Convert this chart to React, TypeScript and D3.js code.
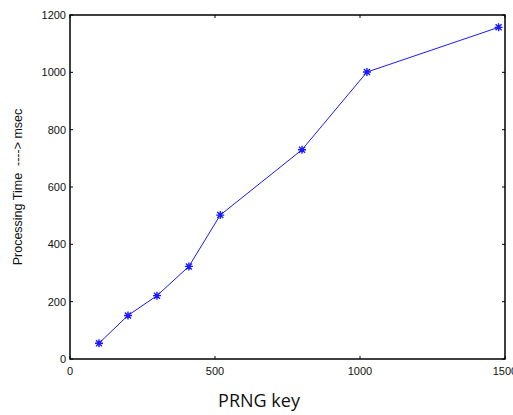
import React, { useEffect, useRef } from 'react';
import * as d3 from 'd3';

// PRNG key sizes and measured processing times (msec)
const keys = [100, 200, 300, 410, 518, 800, 1024, 1478];
const times = [55, 152, 221, 323, 502, 730, 1001, 1157];
const xTicks = [0, 500, 1000, 1500];
const yTicks = [0, 200, 400, 600, 800, 1000, 1200];

const App = () => {
  const ref = useRef<SVGSVGElement>(null);

  useEffect(() => {
    const width = 513;
    const height = 415;
    const margin = { left: 70, right: 8, top: 15, bottom: 56 };

    const svg = d3.select(ref.current);
    svg.selectAll('*').remove();

    const x = d3.scaleLinear().domain([0, 1500]).range([margin.left, width - margin.right]);
    const y = d3.scaleLinear().domain([0, 1200]).range([height - margin.bottom, margin.top]);

    const x0 = x.range()[0], x1 = x.range()[1];
    const y0 = y.range()[0], y1 = y.range()[1];

    // box
    svg.append('rect')
      .attr('x', x0).attr('y', y1)
      .attr('width', x1 - x0).attr('height', y0 - y1)
      .attr('fill', 'none').attr('stroke', '#000').attr('stroke-width', 1.5);

    const tickLen = 3;
    const font = 'Liberation Sans, Arial, sans-serif';

    // x ticks (bottom + top, inward)
    const xt = svg.append('g');
    xTicks.forEach(t => {
      xt.append('line').attr('x1', x(t)).attr('x2', x(t)).attr('y1', y0).attr('y2', y0 - tickLen).attr('stroke', '#000');
      xt.append('line').attr('x1', x(t)).attr('x2', x(t)).attr('y1', y1).attr('y2', y1 + tickLen).attr('stroke', '#000');
      xt.append('text')
        .attr('x', x(t)).attr('y', y0 + 16)
        .attr('text-anchor', 'middle')
        .attr('font-family', font).attr('font-size', 11).attr('fill', '#111')
        .text(t);
    });

    // y ticks (left + right, inward)
    const yt = svg.append('g');
    yTicks.forEach(t => {
      yt.append('line').attr('x1', x0).attr('x2', x0 + tickLen).attr('y1', y(t)).attr('y2', y(t)).attr('stroke', '#000');
      yt.append('line').attr('x1', x1).attr('x2', x1 - tickLen).attr('y1', y(t)).attr('y2', y(t)).attr('stroke', '#000');
      yt.append('text')
        .attr('x', x0 - 4).attr('y', y(t) + 4)
        .attr('text-anchor', 'end')
        .attr('font-family', font).attr('font-size', 11).attr('fill', '#111')
        .text(t);
    });

    // line
    const data = keys.map((k, i) => ({ k, v: times[i] }));
    const line = d3.line<{ k: number; v: number }>().x(d => x(d.k)).y(d => y(d.v));
    svg.append('path')
      .datum(data)
      .attr('d', line)
      .attr('fill', 'none')
      .attr('stroke', '#1a1aff')
      .attr('stroke-width', 1);

    // asterisk markers
    const r = 4;
    const star = `M${-r},0L${r},0M0,${-r}L0,${r}M${-r * 0.75},${-r * 0.75}L${r * 0.75},${r * 0.75}M${-r * 0.75},${r * 0.75}L${r * 0.75},${-r * 0.75}`;
    svg.append('g')
      .selectAll('path')
      .data(data)
      .enter()
      .append('path')
      .attr('transform', d => `translate(${x(d.k)},${y(d.v)})`)
      .attr('d', star)
      .attr('stroke', '#1a1aff')
      .attr('stroke-width', 1.4)
      .attr('fill', 'none');

    // axis labels
    svg.append('text')
      .attr('x', 259).attr('y', 407)
      .attr('text-anchor', 'middle')
      .attr('font-family', 'Open Sans, sans-serif').attr('font-size', 18).attr('fill', '#111')
      .text('PRNG key');

    svg.append('text')
      .attr('transform', `translate(22,${(y0 + y1) / 2}) rotate(-90)`)
      .attr('text-anchor', 'middle')
      .attr('font-family', font).attr('font-size', 12.5).attr('fill', '#111')
      .attr('xml:space', 'preserve')
      .style('white-space', 'pre')
      .text('Processing Time  ----> msec');
  }, []);

  return (
    <svg
      ref={ref}
      width={513}
      height={415}
      style={{ position: 'absolute', left: 0, top: 0, background: '#fff' }}
    />
  );
};

export default App;
